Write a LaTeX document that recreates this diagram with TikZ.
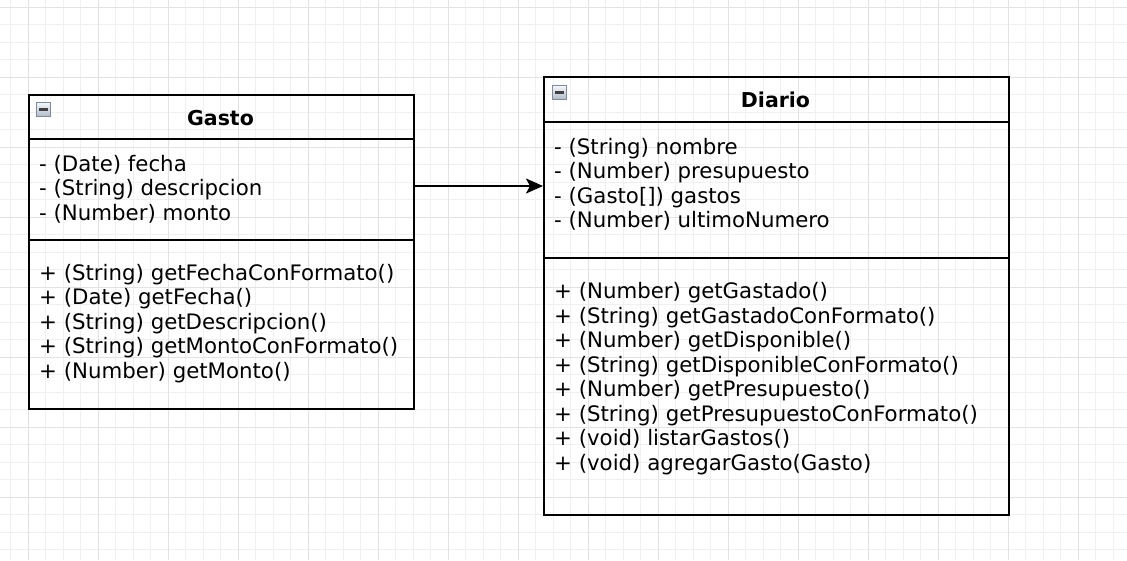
\documentclass[tikz,border=0pt]{standalone}
\usepackage{fontspec}
\setmainfont{DejaVu Sans}
\usetikzlibrary{arrows.meta}
\definecolor{gridmin}{HTML}{F0F0F0}
\definecolor{gridmaj}{HTML}{E2E2E2}
\definecolor{iconborder}{HTML}{7D8C9B}
\definecolor{icontop}{HTML}{F4F7FA}
\definecolor{iconbot}{HTML}{AEBBC8}
\tikzset{
  gridminor/.style={draw=gridmin, line width=1pt},
  gridmajor/.style={draw=gridmaj, line width=1pt},
  umlbox/.style={draw=black, line width=1.8pt, rectangle, inner sep=0pt, anchor=north west},
  divider/.style={draw=black, line width=1.8pt},
  txt/.style={anchor=base west, inner sep=0pt, font=\fontsize{21.3}{24.5}\selectfont},
  title/.style={anchor=base, inner sep=0pt, font=\fontsize{20.5}{24}\selectfont\bfseries},
  icon/.style={draw=iconborder, line width=1pt, rectangle, minimum size=14pt, inner sep=0pt,
    top color=icontop, bottom color=iconbot,
    path picture={\draw[line width=2.6pt, draw=black!75] ([xshift=-4.2pt]path picture bounding box.center) -- ([xshift=4.2pt]path picture bounding box.center);}},
  arr/.style={draw=black, line width=1.8pt, -{Stealth[length=17pt, width=15pt, inset=4pt]}}
}
\begin{document}
\begin{tikzpicture}[x=1pt,y=-1pt]
\useasboundingbox (0,0) rectangle (1127,560);
% grid
\foreach \i in {-1,...,63} {\pgfmathsetmacro\gx{28+17.5*\i}\draw[gridminor] (\gx,0) -- (\gx,560);}
\foreach \j in {0,...,31} {\pgfmathsetmacro\gy{7+17.5*\j}\draw[gridminor] (0,\gy) -- (1127,\gy);}
\foreach \i in {0,...,15} {\pgfmathsetmacro\gx{28+70*\i}\draw[gridmajor] (\gx,0) -- (\gx,560);}
\foreach \j in {0,...,7} {\pgfmathsetmacro\gy{7+70*\j}\draw[gridmajor] (0,\gy) -- (1127,\gy);}

% Gasto
\node[umlbox, minimum width=385pt, minimum height=314pt] (gasto) at (28,94) {};
\draw[divider] (28,139) -- (413,139);
\draw[divider] (28,240) -- (413,240);
\node[icon] (gicon) at (43.5,109.5) {};
\node[title] (gtitle) at (220.5,125) {Gasto};
\node[txt] (ga1) at (39,171) {- (Date) fecha};
\node[txt] (ga2) at (39,195.5) {- (String) descripcion};
\node[txt] (ga3) at (39,220) {- (Number) monto};
\node[txt] (gm1) at (39,280) {+ (String) getFechaConFormato()};
\node[txt] (gm2) at (39,304.5) {+ (Date) getFecha()};
\node[txt] (gm3) at (39,329) {+ (String) getDescripcion()};
\node[txt] (gm4) at (39,353.5) {+ (String) getMontoConFormato()};
\node[txt] (gm5) at (39,378) {+ (Number) getMonto()};

% Diario
\node[umlbox, minimum width=465pt, minimum height=438pt] (diario) at (543,76) {};
\draw[divider] (543,122) -- (1008,122);
\draw[divider] (543,258) -- (1008,258);
\node[icon] (dicon) at (559.5,92.5) {};
\node[title] (dtitle) at (775.5,107.7) {Diario};
\node[txt] (da1) at (554,154) {- (String) nombre};
\node[txt] (da2) at (554,178.5) {- (Number) presupuesto};
\node[txt] (da3) at (554,203) {- (Gasto[]) gastos};
\node[txt] (da4) at (554,227.5) {- (Number) ultimoNumero};
\node[txt] (dm1) at (554,298.5) {+ (Number) getGastado()};
\node[txt] (dm2) at (554,323) {+ (String) getGastadoConFormato()};
\node[txt] (dm3) at (554,347.5) {+ (Number) getDisponible()};
\node[txt] (dm4) at (554,372) {+ (String) getDisponibleConFormato()};
\node[txt] (dm5) at (554,396.5) {+ (Number) getPresupuesto()};
\node[txt] (dm6) at (554,421) {+ (String) getPresupuestoConFormato()};
\node[txt] (dm7) at (554,445.5) {+ (void) listarGastos()};
\node[txt] (dm8) at (554,470) {+ (void) agregarGasto(Gasto)};

% association
\coordinate (ay) at (0,186);
\draw[arr] (gasto.east |- ay) -- (diario.west |- ay);
\end{tikzpicture}
\end{document}
